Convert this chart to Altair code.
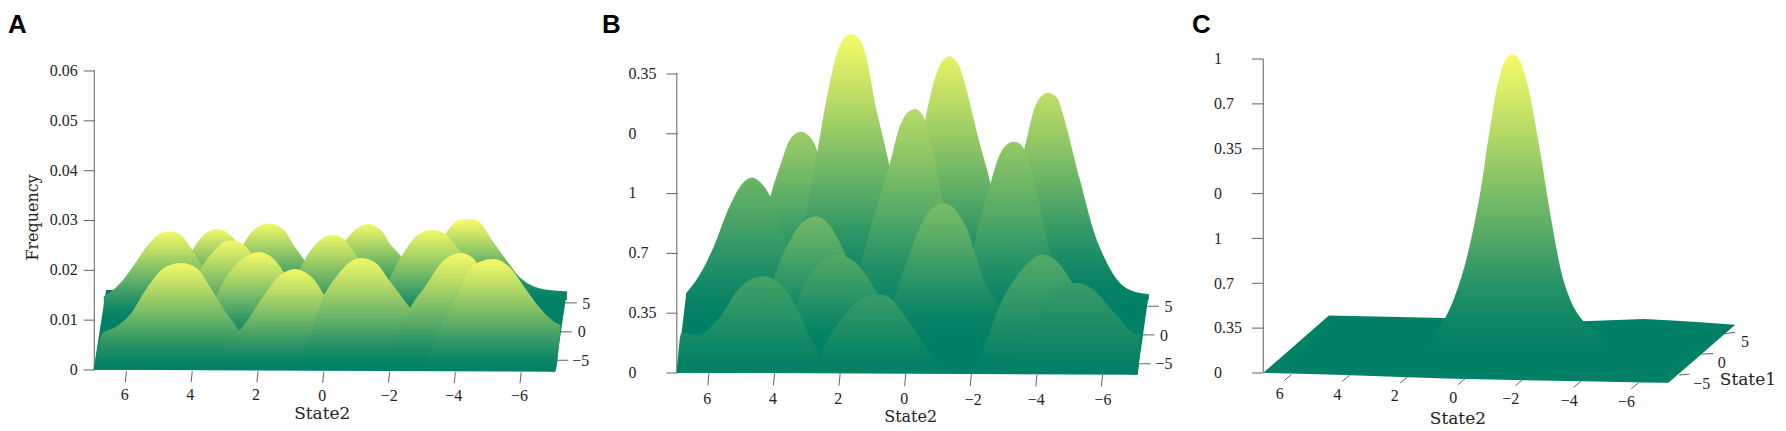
import altair as alt
import pandas as pd

# ---------- panel A: ridge profiles (State2, Frequency) ----------
a1_s = [4.63,4.39,3.99,3.70,3.47,3.21,2.94,2.66,2.31,1.96,1.73]
a1_f = [.0140,.0187,.0240,.0267,.0278,.0282,.0275,.0257,.0224,.0180,.0140]
a2_s = [3.35,3.00,2.66,2.37,2.08,1.67,1.26,.92,.57,.22,-.13]
a2_f = [.0140,.0180,.0220,.0260,.0283,.0293,.0283,.0250,.0217,.0180,.0140]
a3_s = [.57,.10,-.30,-.65,-1.00,-1.34,-1.69,-2.04,-2.39,-2.74,-3.08]
a3_f = [.0140,.0194,.0234,.0259,.0283,.0292,.0283,.0250,.0224,.0180,.0140]
a4_s = [-2.45,-3.03,-3.70,-4.01,-4.36,-4.71,-5.11,-5.58,-5.98,-6.39,-6.85,-7.39]
a4_f = [.0140,.0214,.0273,.0297,.0302,.0297,.0260,.0217,.0184,.0167,.0160,.0157]
a5_s = [6.69,6.37,6.02,5.67,5.26,4.97,4.68,4.39,4.10,3.76,3.35,2.89]
a5_f = [.0147,.0162,.0187,.0220,.0257,.0273,.0277,.0272,.0250,.0214,.0167,.0100]
a6_s = [1.32,1.03,.74,.39,.05,-.27,-.59,-.94,-1.34,-1.75]
a6_f = [.0100,.0140,.0200,.0240,.0263,.0270,.0263,.0234,.0187,.0100]
a7_s = [-1.58,-1.98,-2.39,-2.85,-3.28,-3.66,-4.07,-4.53,-5.06]
a7_f = [.0100,.0180,.0230,.0270,.0280,.0273,.0244,.0200,.0100]
a8_s = [4.39,3.76,3.35,3.06,2.77,2.42,2.08,1.73,1.26]
a8_f = [.0074,.0200,.0237,.0255,.0259,.0250,.0220,.0180,.0074]
a9_s = [3.58,3.23,2.77,2.37,1.98,1.61,1.21,.74,.28]
a9_f = [.0054,.0154,.0204,.0227,.0236,.0227,.0194,.0127,.0054]
a10_s = [7.0,6.71,6.37,5.90,5.38,4.86,4.34,3.87,3.47,3.00,2.60,1.96]
a10_f = [0,.0074,.0084,.0110,.0164,.0204,.0214,.0204,.0167,.0117,.0081,0]
a11_s = [3.35,2.89,2.42,1.84,1.32,.86,.39,-.01,-.48,-1.63]
a11_f = [0,.0054,.0090,.0147,.0190,.0202,.0187,.0150,.0090,0]
a12_s = [.80,.39,-.01,-.42,-.82,-1.17,-1.58,-1.98,-2.62,-3.14,-3.84]
a12_f = [0,.0074,.0150,.0190,.0217,.0224,.0214,.0180,.0124,.0074,0]
a13_s = [-1.87,-2.62,-3.08,-3.61,-3.90,-4.19,-4.53,-5.00,-6.16]
a13_f = [0,.0124,.0167,.0217,.0230,.0234,.0224,.0174,0]
a14_s = [-3.03,-3.66,-4.07,-4.42,-4.77,-5.17,-5.63,-6.16,-6.62,-7.03,-7.20]
a14_f = [0,.0100,.0150,.0200,.0217,.0222,.0207,.0160,.0120,.0095,.0090]
a14_b = [0,0,0,0,0,0,0,0,0,-.0004,.0090]
a_plane_s = [7.0,6.62,-7.03,-7.39]
a_plane_top = [0,.0160,.0158,.0157]
a_plane_bot = [0,0,-.0004,.0157]

# ---------- panel B: ridge profiles (State2, axis step) ----------
b1_s = [4.69,4.34,4.13,3.81,3.47,3.17,2.88,2.69,2.36,2.01,1.66]
b1_y = [1.22,2.44,2.94,3.49,3.94,4.02,3.91,3.69,2.99,2.00,1.22]
b2_s = [3.41,3.00,2.69,2.42,2.07,1.87,1.66,1.45,1.26,.91,.50,.03,-.26]
b2_y = [1.22,2.77,3.71,4.55,5.38,5.59,5.65,5.59,5.38,4.43,3.46,2.00,1.22]
b3_s = [.38,-.08,-.60,-.90,-1.13,-1.34,-1.57,-1.77,-2.23,-2.58,-2.93,-3.22]
b3_y = [1.22,2.77,4.24,4.93,5.21,5.28,5.18,4.88,3.88,3.16,2.05,1.22]
b4_s = [-2.64,-3.10,-3.63,-3.98,-4.21,-4.38,-4.59,-4.79,-5.31,-5.90,-6.53,-6.94,-7.41]
b4_y = [1.22,2.66,3.77,4.49,4.65,4.67,4.60,4.32,3.22,2.11,1.50,1.36,1.31]
b5_s = [6.69,6.31,5.85,5.38,4.98,4.69,4.40,4.13,3.76,3.29,2.88]
b5_y = [1.33,1.61,2.11,2.77,3.16,3.26,3.16,2.94,2.33,1.50,.887]
b6_s = [1.78,1.31,.85,.50,.15,-.08,-.29,-.49,-.78,-1.30,-1.77]
b6_y = [.887,1.94,2.83,3.46,4.16,4.35,4.40,4.32,3.82,2.33,.887]
b7_s = [-1.77,-2.12,-2.58,-2.93,-3.16,-3.34,-3.51,-3.86,-4.38,-5.02]
b7_y = [.887,2.22,3.16,3.71,3.84,3.85,3.81,3.33,2.05,.887]
b8_s = [4.22,3.99,3.52,3.12,2.74,2.42,1.95,1.43,.97]
b8_y = [.665,1.61,2.22,2.52,2.61,2.52,2.11,1.33,.665]
b9_s = [3.41,3.23,2.71,2.36,2.07,1.72,1.37,.85,.27]
b9_y = [.499,1.30,1.77,1.94,1.97,1.91,1.75,1.30,.499]
b10_s = [.62,.33,-.20,-.66,-.95,-1.16,-1.42,-1.83,-2.41,-2.85,-3.34]
b10_y = [.665,1.27,2.11,2.66,2.80,2.83,2.77,2.44,1.50,1.11,.665]
b11_s = [6.98,6.84,6.31,5.73,5.03,4.63,4.36,3.99,3.52,2.83,2.24]
b11_y = [0,.665,.637,.887,1.44,1.58,1.61,1.55,1.27,.499,0]
b12_s = [2.71,2.48,1.90,1.31,.85,.50,.03,-.66,-1.24]
b12_y = [0,.443,.942,1.25,1.30,1.26,.942,.388,0]
b13_s = [-2.17,-2.85,-3.45,-3.98,-4.23,-4.56,-5.02,-5.55,-6.13]
b13_y = [0,1.11,1.66,1.94,1.97,1.88,1.55,.94,0]
b14_s = [-3.22,-4.21,-4.85,-5.26,-5.66,-6.36,-7.06,-7.17]
b14_y = [0,1.11,1.47,1.50,1.41,1.00,.64,.665]
b14_b = [0,0,0,0,0,0,-.033,.665]
b_plane_s = [6.98,6.69,-7.06,-7.41]
b_plane_top = [0,1.33,1.32,1.31]
b_plane_bot = [0,0,-.033,1.31]

# ---------- panel C: single peak and the floor ----------
c1_s = [1.35,1.02,.69,.36,-.04,-.50,-.83,-1.16,-1.42,-1.65,-1.89,-2.15,-2.55,-2.94,-3.40,-3.80,-4.09,-4.59,-5.12]
c1_y = [.444,.889,1.22,1.70,2.52,3.93,5.33,6.52,7.00,7.10,6.96,6.44,5.11,3.56,2.07,1.41,1.15,.815,.444]
c_plane_s = [6.98,4.71,.69,-4.09,-6.17,-7.03,-8.02,-9.34]
c_plane_top = [0,1.28,1.22,1.15,1.20,1.17,1.13,1.07]
c_plane_bot = [0,-.036,-.13,-.19,-.215,-.22,.33,1.07]

# ---------- axes ----------
state2_ticks = [6,4,2,0,-2,-4,-6]
state2_labels = ["6","4","2","0","−2","−4","−6"]
state1_labels = ["5","0","−5"]

a_tick_y = [-.0003,-.0003,-.0003,-.0004,-.0004,-.0005,-.0005]
a_lab_s = [6.05,4.06,2.06,.05,-1.99,-3.95,-5.95]
a_lab_y = [-.0050,-.0050,-.0050,-.0052,-.0053,-.0053,-.0053]
a_s1_x = [-7.32,-7.20,-7.06]
a_s1_x2 = [-7.69,-7.55,-7.43]
a_s1_y = [.0134,.0076,.0019]
a_s1_lab_x = [-7.98,-7.84,-7.81]
a_s1_lab_y = [.0132,.0075,.0017]

b_tick_y = [-.01,-.01,-.015,-.02,-.02,-.03,-.03]
b_lab_s = [6.05,4.05,2.06,.05,-2.06,-3.98,-6.01]
b_lab_y = [-.43,-.43,-.43,-.44,-.45,-.45,-.45]
b_s1_x = [-7.37,-7.23,-7.12]
b_s1_x2 = [-7.72,-7.58,-7.47]
b_s1_y = [1.11,.632,.15]
b_s1_lab_x = [-8.01,-7.87,-7.87]
b_s1_lab_y = [1.09,.62,.139]

c_tick_y = [-.037,-.059,-.096,-.133,-.148,-.193,-.222]
c_lab_s = [6.41,4.41,2.43,.41,-1.58,-3.60,-5.58]
c_lab_y = [-.467,-.496,-.519,-.556,-.593,-.63,-.652]
c_s1_x = [-8.94,-8.18,-7.40]
c_s1_x2 = [-9.34,-8.58,-7.76]
c_s1_y = [.867,.415,-.052]
c_s1_y2 = [.904,.43,-.03]
c_s1_lab_x = [-9.68,-8.87,-8.18]
c_s1_lab_y = [.68,.207,-.26]

a_y_values = [0,.01,.02,.03,.04,.05,.06]
a_y_labels = ["0","0.01","0.02","0.03","0.04","0.05","0.06"]
b_y_values = [0,1,2,3,4,5]
b_y_labels = ["0","0.35","0.7","1","0","0.35"]
c_y_values = [0,1,2,3,4,5,6,7]
c_y_labels = ["0","0.35","0.7","1","0","0.35","0.7","1"]

H = 418
SERIF = "Liberation Serif"
TITLE_FONT = "DejaVu Serif"
INK = "#222222"
LINE = "#606060"
BASE = "#008066"


def summer(t):
    t = max(0.0, min(1.0, t))
    return "#%02x%02x%02x" % (round(255 * t), round(255 * (.5 + .5 * t)), 102)


STOP_AT = [0, .25, .5, .75, .9, 1]
STOP_T = [1, .74, .46, .18, .05, 0]


def grad(t):
    return alt.Gradient(
        gradient="linear", x1=0, x2=0, y1=0, y2=1,
        stops=[alt.GradientStop(offset=o, color=summer(t * f)) for o, f in zip(STOP_AT, STOP_T)],
    )


def panel(width, xdom, ydom, yaxis, plane, peaks, tick_y, tick_dx, tick_dy,
          lab_s, lab_y, s1, title_xy, title_size, letter, letter_x, extra=None):
    xs = alt.Scale(domain=xdom, nice=False, zero=False)
    ys = alt.Scale(domain=ydom, nice=False, zero=False)
    X = lambda f: alt.X(f + ":Q", scale=xs, axis=None)
    Y = lambda f: alt.Y(f + ":Q", scale=ys, axis=yaxis["axis"])

    layers = []
    # y-axis spine
    vals = yaxis["values"]
    spine = pd.DataFrame({"x": [6.98], "y": [vals[0]], "y2": [vals[-1]]})
    layers.append(alt.Chart(spine).mark_rule(color=LINE, strokeWidth=1).encode(
        x=X("x"), y=Y("y"), y2="y2:Q"))

    def area(s, top, bot, fill, interp):
        df = pd.DataFrame({"s": s, "y": top, "b": bot})
        return alt.Chart(df).mark_area(interpolate=interp, color=fill, opacity=1).encode(
            x=X("s"), y=Y("y"), y2="b:Q")

    ps, pt, pb = plane
    df = pd.DataFrame({"s": ps, "y": pt, "b": pb})
    layers.append(alt.Chart(df).mark_area(color=BASE, opacity=1).encode(x=X("s"), y=Y("y"), y2="b:Q"))
    for s, top, base, t, interp in peaks:
        bot = base if isinstance(base, list) else [base] * len(s)
        layers.append(area(s, top, bot, grad(t), interp))

    # slanted State2 ticks
    df = pd.DataFrame({"x": state2_ticks, "y": tick_y})
    df["x2"] = df["x"] + tick_dx
    df["y2"] = df["y"] - tick_dy
    layers.append(alt.Chart(df).mark_rule(color=LINE, strokeWidth=1).encode(
        x=X("x"), x2="x2:Q", y=Y("y"), y2="y2:Q"))
    df = pd.DataFrame({"x": lab_s, "y": lab_y, "t": state2_labels})
    layers.append(alt.Chart(df).mark_text(font=SERIF, fontSize=16, color=INK).encode(
        x=X("x"), y=Y("y"), text="t:N"))

    # State1 ticks
    sx, sx2, sy, sy2, lx, ly = s1
    df = pd.DataFrame({"x": sx, "x2": sx2, "y": sy, "y2": sy2})
    layers.append(alt.Chart(df).mark_rule(color=LINE, strokeWidth=1).encode(
        x=X("x"), x2="x2:Q", y=Y("y"), y2="y2:Q"))
    df = pd.DataFrame({"x": lx, "y": ly, "t": state1_labels})
    layers.append(alt.Chart(df).mark_text(font=SERIF, fontSize=16, color=INK).encode(
        x=X("x"), y=Y("y"), text="t:N"))

    # axis titles
    names = [("State2", title_xy[0], title_xy[1])] + (extra or [])
    df = pd.DataFrame({"x": [n[1] for n in names], "y": [n[2] for n in names], "t": [n[0] for n in names]})
    layers.append(alt.Chart(df).mark_text(font=TITLE_FONT, fontSize=title_size, color=INK).encode(
        x=X("x"), y=Y("y"), text="t:N"))

    # panel letter
    df = pd.DataFrame({"t": [letter]})
    layers.append(alt.Chart(df).mark_text(
        font="Liberation Sans", fontWeight="bold", fontSize=26, color="#000000",
        align="left", baseline="alphabetic").encode(
        x=alt.value(letter_x), y=alt.value(24), text="t:N"))

    return alt.layer(*layers).properties(width=width, height=H)


def y_axis(labels, expr_index, offset, align, padding, title=None):
    expr = "[" + ",".join("'%s'" % l for l in labels) + "][" + expr_index + "]"
    kw = dict(
        labelExpr=expr, offset=offset, tickSize=11, tickColor=LINE, domain=False, grid=False,
        labelFont=SERIF, labelFontSize=16, labelColor=INK, labelAlign=align, labelPadding=padding,
        labelOverlap=False, labelFlush=False, labelBaseline="middle",
    )
    if title:
        kw.update(title=title, titleFont=TITLE_FONT, titleFontSize=16, titleFontWeight="normal",
                  titleColor=INK, titlePadding=9)
    else:
        kw.update(title=None)
    return kw


axA = dict(values=a_y_values, axis=alt.Axis(values=a_y_values, **y_axis(a_y_labels, "round(datum.value*100)", -86.5, "right", 6, "Frequency")))
axB = dict(values=b_y_values, axis=alt.Axis(values=b_y_values, **y_axis(b_y_labels, "datum.value", -79.2, "left", 38)))
axC = dict(values=c_y_values, axis=alt.Axis(values=c_y_values, **y_axis(c_y_labels, "datum.value", -70.7, "left", 38)))

CR = "catmull-rom"
MO = "monotone"
peaksA = [
    (a1_s, a1_f, .0140, .95, CR), (a2_s, a2_f, .0140, .95, CR), (a3_s, a3_f, .0140, .95, CR), (a4_s, a4_f, .0140, .98, CR),
    (a5_s, a5_f, .0100, .95, MO), (a6_s, a6_f, .0100, .92, CR), (a7_s, a7_f, .0100, .95, CR),
    (a8_s, a8_f, .0074, .95, CR), (a9_s, a9_f, .0054, .97, CR),
    (a10_s, a10_f, 0, .95, MO), (a11_s, a11_f, 0, .95, CR), (a12_s, a12_f, 0, .95, CR),
    (a13_s, a13_f, 0, .97, CR), (a14_s, a14_f, a14_b, .97, MO),
]
peaksB = [
    (b1_s, b1_y, 1.22, .62, CR), (b2_s, b2_y, 1.22, .97, CR), (b3_s, b3_y, 1.22, .90, CR), (b4_s, b4_y, 1.22, .75, CR),
    (b5_s, b5_y, .887, .42, MO), (b6_s, b6_y, .887, .72, CR), (b7_s, b7_y, .887, .58, CR),
    (b8_s, b8_y, .665, .45, CR), (b9_s, b9_y, .499, .33, CR), (b10_s, b10_y, .665, .48, CR),
    (b11_s, b11_y, 0, .27, MO), (b12_s, b12_y, 0, .22, CR), (b13_s, b13_y, 0, .33, CR), (b14_s, b14_y, b14_b, .22, MO),
]
peaksC = [(c1_s, c1_y, .444, .97, CR)]

A = panel(592, [9.603, -8.336], [-.01112, .07232], axA, (a_plane_s, a_plane_top, a_plane_bot), peaksA,
          a_tick_y, .035, .0022, a_lab_s, a_lab_y,
          (a_s1_x, a_s1_x2, a_s1_y, a_s1_y, a_s1_lab_x, a_s1_lab_y), (.05, -.0088), 17, "A", 0)
B = panel(596, [9.383, -8.727], [-.8764, 6.075], axB, (b_plane_s, b_plane_top, b_plane_bot), peaksB,
          b_tick_y, .035, .2, b_lab_s, b_lab_y,
          (b_s1_x, b_s1_x2, b_s1_y, b_s1_y, b_s1_lab_x, b_s1_lab_y), (-.15, -.74), 16, "B", 4)
C = panel(588, [9.445, -10.82], [-1.171, 8.118], axC, (c_plane_s, c_plane_top, c_plane_bot), peaksC,
          c_tick_y, .25, .133, c_lab_s, c_lab_y,
          (c_s1_x, c_s1_x2, c_s1_y, c_s1_y2, c_s1_lab_x, c_s1_lab_y), (.25, -1.02), 17, "C", 0,
          extra=[("State1", -9.78, -.163)])

chart = alt.hconcat(A, B, C, spacing=0, padding=0, bounds="flush").configure_view(strokeWidth=0, strokeOpacity=0)
chart.save("out.html", embed_options={"renderer": "svg", "actions": False})
